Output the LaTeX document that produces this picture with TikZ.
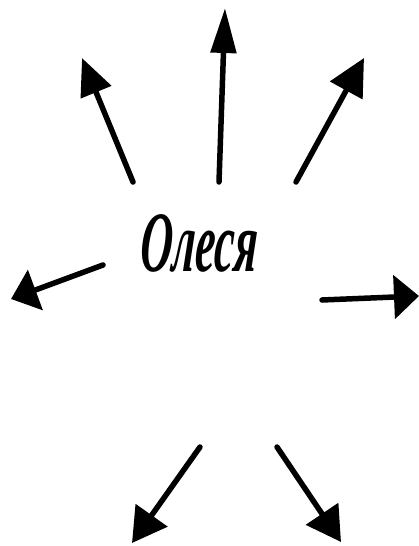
\documentclass[tikz,border=0pt]{standalone}
\usepackage{fontspec}
\usepackage{graphicx}
\setmainfont{Liberation Serif}
\newfontfamily\titlefont{Liberation Serif}[BoldItalicFeatures={FakeSlant=0.12}]
\usetikzlibrary{arrows.meta}
\tikzset{
  ray/.style 2 args={line width=5.5pt, line cap=round, -{Triangle[length=#1pt,width=#2pt]}},
  title/.style={inner sep=0pt, font=\fontsize{86}{86}\titlefont\bfseries\itshape}
}
\begin{document}
\begin{tikzpicture}[x=1pt,y=-1pt]
\useasboundingbox (0,0) rectangle (419,546);
\node[title, anchor=base] (t) at (198,271) {\scalebox{0.52}[1]{Олеся}};
\coordinate (s1) at (133,182); \coordinate (e1) at (82,58);
\coordinate (s2) at (219,182); \coordinate (e2) at (225,8);
\coordinate (s3) at (296,182); \coordinate (e3) at (364,58);
\coordinate (s4) at (103,265); \coordinate (e4) at (11,299);
\coordinate (s5) at (322,300); \coordinate (e5) at (419,296);
\coordinate (s6) at (200,447); \coordinate (e6) at (132,543);
\coordinate (s7) at (277,447); \coordinate (e7) at (341,542);
\draw[ray={37}{32}] (s1) -- (e1);
\draw[ray={45}{25}] (s2) -- (e2);
\draw[ray={37}{36}] (s3) -- (e3);
\draw[ray={26}{42}] (s4) -- (e4);
\draw[ray={25}{43}] (s5) -- (e5);
\draw[ray={34}{38}] (s6) -- (e6);
\draw[ray={34}{38}] (s7) -- (e7);
\end{tikzpicture}
\end{document}
